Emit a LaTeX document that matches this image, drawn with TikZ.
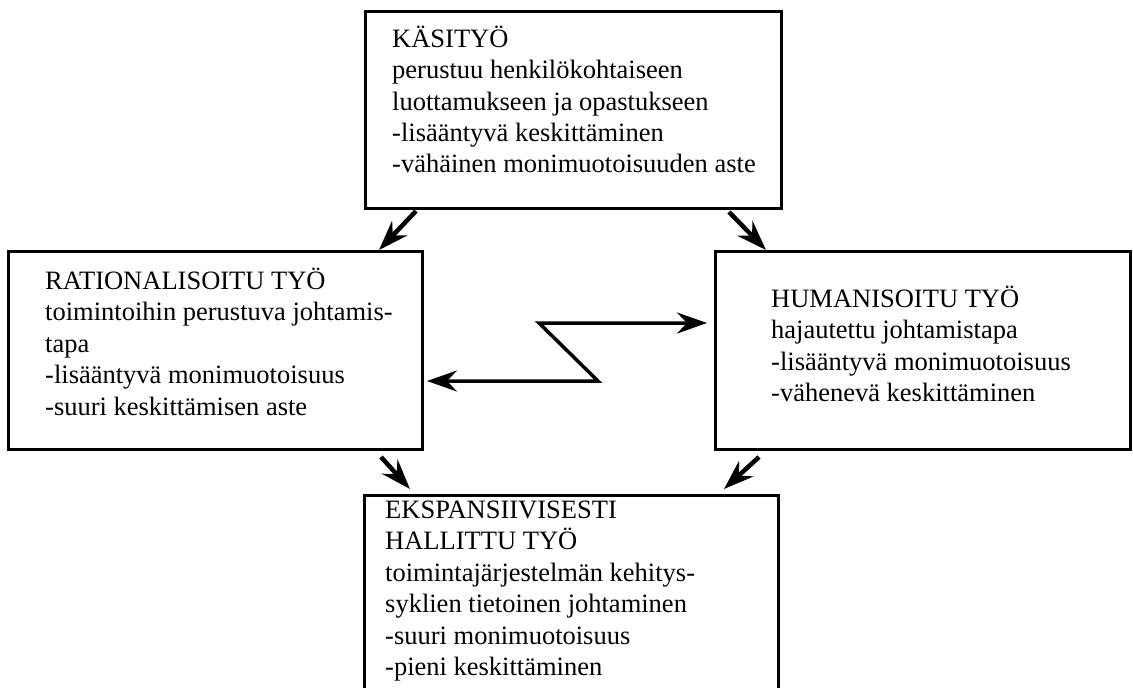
\documentclass[tikz,border=0pt]{standalone}
\usepackage{fontspec}
\setmainfont{Liberation Serif}
\usetikzlibrary{arrows.meta,calc}
\newcommand\boxlines[1]{\vtop{\hsize=500pt\parindent=0pt\parskip=0pt\fontsize{26.5pt}{31.5pt}\selectfont #1}}
\tikzset{
  box/.style={draw, line width=3pt, inner sep=0pt, anchor=north west},
  txt/.style={inner sep=0pt, anchor=base west},
  head/.tip={Stealth[length=30pt,width=21pt,inset=10pt]},
  flow/.style={line width=4.5pt, -head},
  zz/.style={line width=3.5pt, line join=miter, head-head}
}
\begin{document}
\begin{tikzpicture}[x=1pt,y=-1pt]
\useasboundingbox (0,0) rectangle (1133,688);
\clip (0,0) rectangle (1133,688);
% boxes
\node[box, minimum width=416pt, minimum height=197pt] (kasityo) at (364,10) {};
\node[box, minimum width=414pt, minimum height=198pt] (rational) at (7,250) {};
\node[box, minimum width=415pt, minimum height=198pt] (human) at (714,250) {};
\node[box, minimum width=414pt, minimum height=230pt] (ekspans) at (363,494) {};
% texts
\node[txt] (kasityoT) at (392,47) {\boxlines{K\"ASITY\"O\par
perustuu henkil\"okohtaiseen\par
luottamukseen ja opastukseen\par
-lis\"a\"antyv\"a keskitt\"aminen\par
-v\"ah\"ainen monimuotoisuuden aste}};
\node[txt] (rationalT) at (45,289) {\boxlines{RATIONALISOITU TY\"O\par
toimintoihin perustuva johtamis-\par
tapa\par
-lis\"a\"antyv\"a monimuotoisuus\par
-suuri keskitt\"amisen aste}};
\node[txt] (humanT) at (771,307) {\boxlines{HUMANISOITU TY\"O\par
hajautettu johtamistapa\par
-lis\"a\"antyv\"a monimuotoisuus\par
-v\"ahenev\"a keskitt\"aminen}};
\node[txt] (ekspansT) at (385,518) {\boxlines{EKSPANSIIVISESTI\par
HALLITTU TY\"O\par
toimintaj\"arjestelm\"an kehitys-\par
syklien tietoinen johtaminen\par
-suuri monimuotoisuus\par
-pieni keskitt\"aminen}};
% arrows
\draw[flow] ($(kasityo.south west)+(52,1)$) -- ($(rational.north east)+(-45,0)$);
\draw[flow] ($(kasityo.south east)+(-54,2)$) -- ($(human.north west)+(52,0)$);
\draw[flow] ($(rational.south east)+(-43,6)$) -- ($(ekspans.north west)+(47,-5)$);
\draw[flow] ($(human.south west)+(45,6)$) -- ($(ekspans.north east)+(-56,-5)$);
% zigzag
\coordinate (zA) at (539,323);
\coordinate (zB) at (598,381);
\draw[zz, shorten <=3pt, shorten >=7pt] (rational.east |- zB) -- (zB) -- (zA) -- (human.west |- zA);
\end{tikzpicture}
\end{document}
